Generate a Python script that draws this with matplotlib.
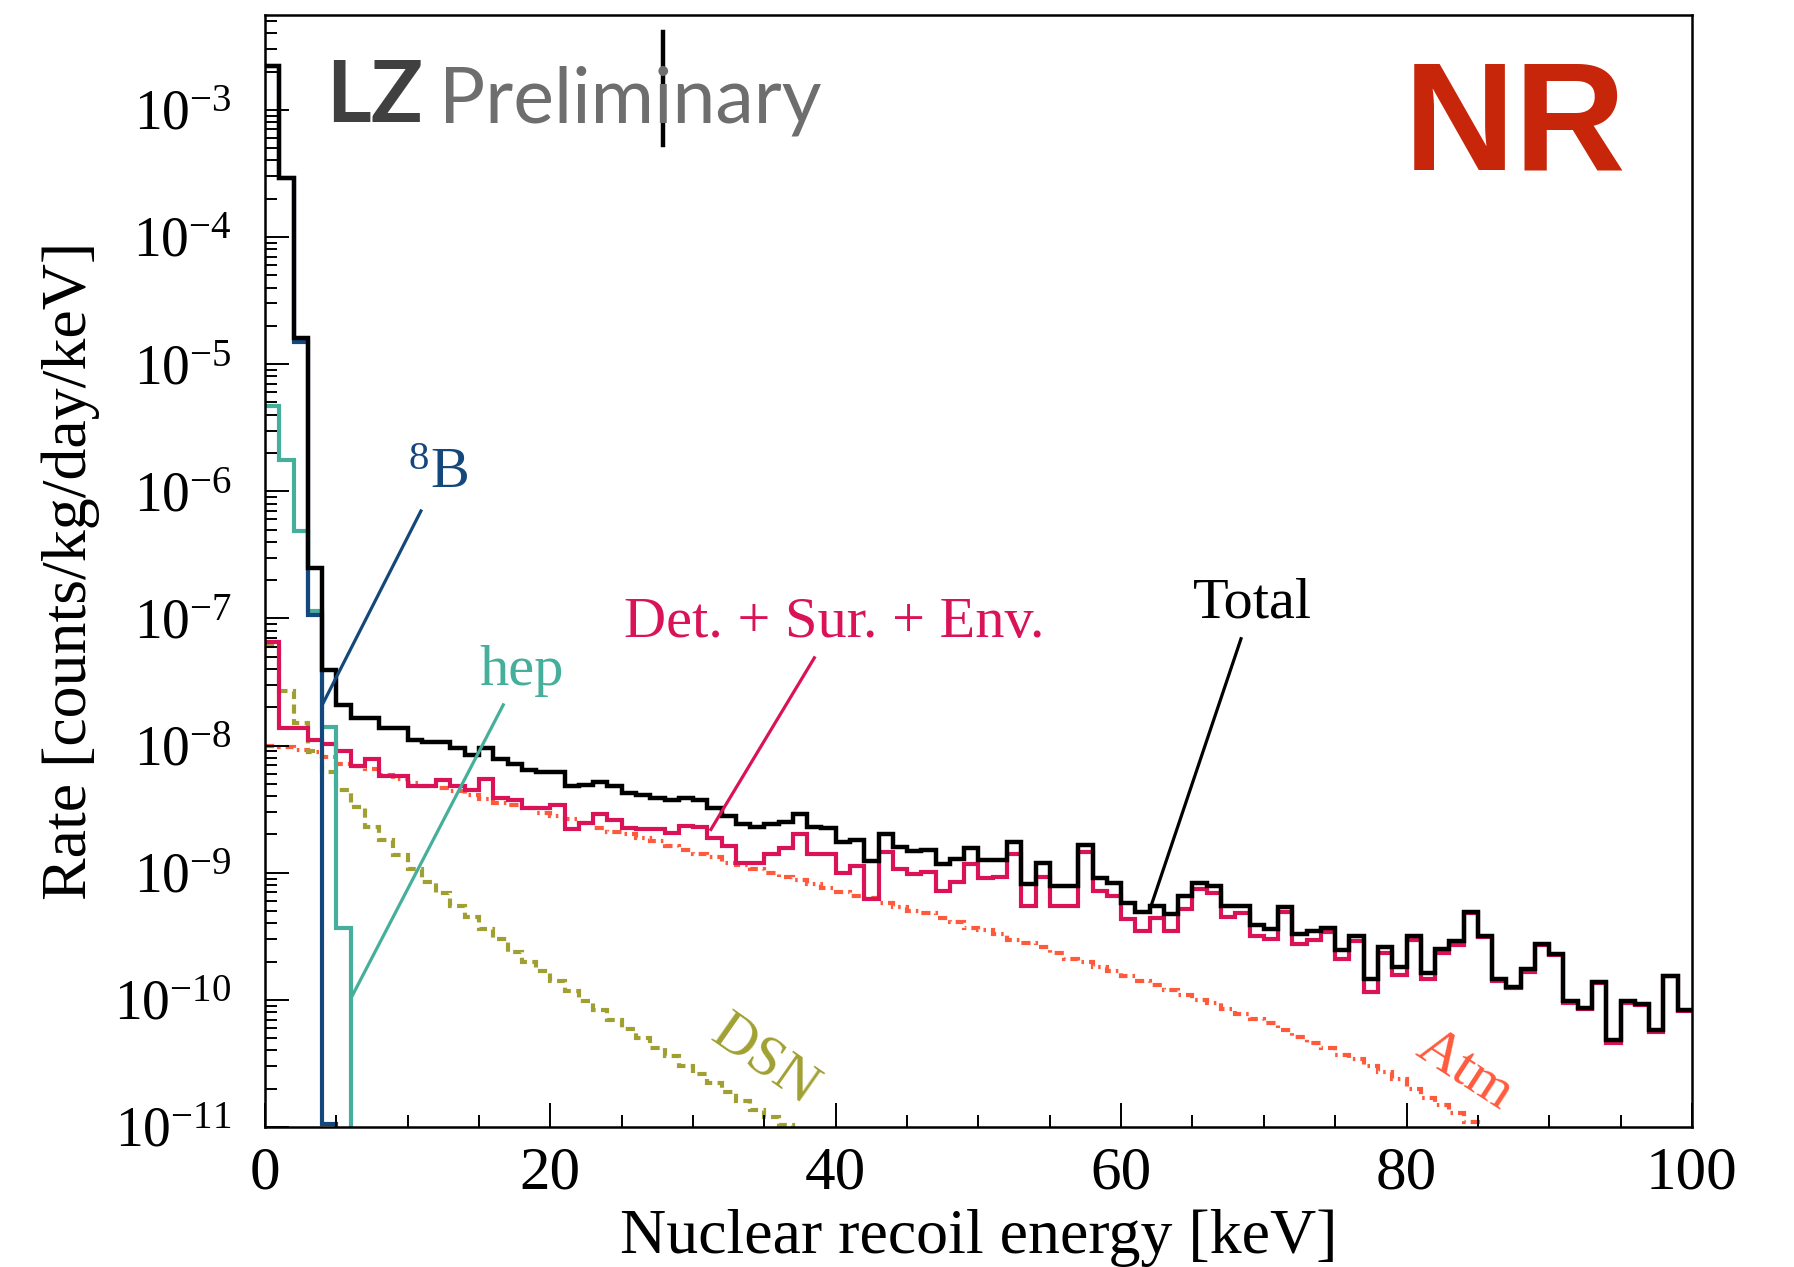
import numpy as np
import matplotlib
matplotlib.use("Agg")
import matplotlib.pyplot as plt
from matplotlib.ticker import LogLocator, MultipleLocator, NullFormatter

plt.rcParams["font.family"] = "Liberation Serif"
plt.rcParams["mathtext.fontset"] = "custom"
plt.rcParams["mathtext.rm"] = "Liberation Serif"
plt.rcParams["mathtext.it"] = "Liberation Serif:italic"

# NR rates in 1 keV bins starting at 0 keV [counts/kg/day/keV]
total = [2.2e-3, 2.9e-4, 1.6e-5, 2.5e-7, 3.9e-8, 2.1e-8, 1.65e-8, 1.65e-8, 1.38e-8, 1.38e-8,
         1.10e-8, 1.07e-8, 1.07e-8, 9.5e-9, 8.5e-9, 9.5e-9, 7.8e-9, 7.1e-9, 6.4e-9, 6.2e-9,
         6.2e-9, 4.8e-9, 4.9e-9, 5.2e-9, 4.8e-9, 4.2e-9, 4.1e-9, 3.9e-9, 3.7e-9, 3.9e-9,
         3.7e-9, 3.2e-9, 2.8e-9, 2.4e-9, 2.3e-9, 2.4e-9, 2.5e-9, 2.9e-9, 2.3e-9, 2.25e-9,
         1.74e-9, 1.82e-9, 1.23e-9, 2.0e-9, 1.58e-9, 1.48e-9, 1.51e-9, 1.17e-9, 1.29e-9, 1.55e-9,
         1.26e-9, 1.26e-9, 1.74e-9, 8.1e-10, 1.20e-9, 7.9e-10, 7.9e-10, 1.66e-9, 9.1e-10, 8.3e-10,
         5.8e-10, 4.9e-10, 5.5e-10, 4.7e-10, 6.5e-10, 8.3e-10, 7.9e-10, 5.5e-10, 5.5e-10, 3.9e-10,
         3.6e-10, 5.4e-10, 3.3e-10, 3.5e-10, 3.7e-10, 2.45e-10, 3.2e-10, 1.45e-10, 2.6e-10, 1.82e-10,
         3.2e-10, 1.62e-10, 2.5e-10, 2.9e-10, 4.9e-10, 3.2e-10, 1.45e-10, 1.26e-10, 1.74e-10, 2.75e-10,
         2.3e-10, 9.8e-11, 8.7e-11, 1.38e-10, 4.8e-11, 9.8e-11, 9.3e-11, 5.8e-11, 1.55e-10, 8.3e-11]

det_sur_env = [6.5e-8, 1.38e-8, 1.38e-8, 1.10e-8, 1.02e-8, 9.1e-9, 6.9e-9, 7.8e-9, 5.8e-9, 5.8e-9,
               4.8e-9, 4.8e-9, 5.4e-9, 4.8e-9, 4.5e-9, 5.5e-9, 3.9e-9, 3.7e-9, 3.2e-9, 3.2e-9,
               3.4e-9, 2.2e-9, 2.45e-9, 2.9e-9, 2.6e-9, 2.25e-9, 2.2e-9, 2.2e-9, 2.05e-9, 2.35e-9,
               2.3e-9, 1.86e-9, 1.62e-9, 1.20e-9, 1.20e-9, 1.41e-9, 1.55e-9, 2.0e-9, 1.41e-9, 1.41e-9,
               1.0e-9, 1.12e-9, 6.2e-10, 1.45e-9, 1.07e-9, 9.8e-10, 1.02e-9, 7.2e-10, 8.5e-10, 1.17e-9,
               9.1e-10, 9.3e-10, 1.41e-9, 5.5e-10, 9.3e-10, 5.5e-10, 5.5e-10, 1.45e-9, 7.2e-10, 6.6e-10,
               4.3e-10, 3.5e-10, 4.4e-10, 3.5e-10, 5.2e-10, 7.4e-10, 6.9e-10, 4.5e-10, 4.8e-10, 3.2e-10,
               3.0e-10, 4.9e-10, 2.75e-10, 2.95e-10, 3.4e-10, 2.1e-10, 2.9e-10, 1.15e-10, 2.35e-10, 1.58e-10,
               2.95e-10, 1.45e-10, 2.35e-10, 2.7e-10, 4.8e-10, 3.1e-10, 1.41e-10, 1.23e-10, 1.66e-10, 2.7e-10,
               2.25e-10, 9.5e-11, 8.5e-11, 1.36e-10, 4.6e-11, 9.5e-11, 9.1e-11, 5.6e-11, 1.53e-10, 8.1e-11]

atm = [1.0e-8, 9.8e-9, 9.3e-9, 8.9e-9, 8.1e-9, 7.2e-9, 6.9e-9, 6.5e-9, 5.9e-9, 5.5e-9,
       5.1e-9, 4.8e-9, 4.6e-9, 4.4e-9, 4.1e-9, 3.8e-9, 3.55e-9, 3.4e-9, 3.2e-9, 2.95e-9,
       2.8e-9, 2.65e-9, 2.45e-9, 2.25e-9, 2.1e-9, 2.0e-9, 1.86e-9, 1.78e-9, 1.62e-9, 1.51e-9,
       1.41e-9, 1.32e-9, 1.20e-9, 1.15e-9, 1.07e-9, 1.0e-9, 9.3e-10, 8.7e-10, 8.1e-10, 7.6e-10,
       7.1e-10, 6.6e-10, 6.3e-10, 5.75e-10, 5.4e-10, 5.0e-10, 4.8e-10, 4.4e-10, 4.1e-10, 3.7e-10,
       3.55e-10, 3.3e-10, 2.95e-10, 2.8e-10, 2.6e-10, 2.35e-10, 2.1e-10, 2.0e-10, 1.82e-10, 1.7e-10,
       1.55e-10, 1.41e-10, 1.32e-10, 1.20e-10, 1.10e-10, 1.0e-10, 9.5e-11, 8.5e-11, 7.8e-11, 7.1e-11,
       6.6e-11, 5.75e-11, 5.1e-11, 4.6e-11, 4.2e-11, 3.7e-11, 3.4e-11, 3.0e-11, 2.7e-11, 2.4e-11,
       2.0e-11, 1.7e-11, 1.5e-11, 1.3e-11, 1.1e-11, 8.5e-12]

dsn = [6.1e-8, 2.7e-8, 1.5e-8, 9.1e-9, 6.2e-9, 4.5e-9, 3.3e-9, 2.3e-9, 1.8e-9, 1.38e-9,
       1.07e-9, 8.5e-10, 6.9e-10, 5.5e-10, 4.5e-10, 3.6e-10, 3.0e-10, 2.4e-10, 2.0e-10, 1.7e-10,
       1.41e-10, 1.17e-10, 9.8e-11, 8.3e-11, 6.9e-11, 5.9e-11, 5.0e-11, 4.2e-11, 3.6e-11, 3.0e-11,
       2.6e-11, 2.2e-11, 1.87e-11, 1.6e-11, 1.37e-11, 1.19e-11, 1.03e-11, 8.8e-12]

b8 = [2.2e-3, 2.9e-4, 1.5e-5, 1.07e-7, 1.05e-11, 1e-12]
hep = [4.7e-6, 1.75e-6, 4.9e-7, 1.15e-7, 1.4e-8, 3.7e-10, 1e-12]

c_total = "black"
c_det = "#DA1258"
c_atm = "#FF5A3C"
c_dsn = "#A0A032"
c_b8 = "#14487D"
c_hep = "#46AF9B"

fig = plt.figure(figsize=(17.94, 12.67), dpi=100)
ax = fig.add_axes([0.1477, 0.1105, 0.7954, 0.8777])


def hist(vals, **kw):
    edges = np.arange(len(vals) + 1)
    ax.stairs(vals, edges, baseline=None, **kw)


hist(atm, color=c_atm, lw=3.0, ls=(0, (2.2, 1.2, 0.6, 1.2)))
hist(dsn, color=c_dsn, lw=3.0, ls=(0, (2.2, 1.3)))
hist(det_sur_env, color=c_det, lw=3.0)
hist(hep, color=c_hep, lw=3.0)
hist(b8, color=c_b8, lw=3.0)
hist(total, color=c_total, lw=3.2)

ax.set_yscale("log")
ax.set_xlim(0, 100)
ax.set_ylim(1e-11, 10 ** -2.254)

# labels with pointer lines
ax.plot([10.93, 4.06], [10 ** -6.155, 10 ** -7.67], color=c_b8, lw=2.3)
ax.text(12.1, 10 ** -5.976, r"$^{8}$B", color=c_b8, fontsize=42, ha="center", va="baseline")

ax.plot([16.7, 6.06], [10 ** -7.68, 10 ** -9.98], color=c_hep, lw=2.3)
ax.text(17.97, 10 ** -7.525, "hep", color=c_hep, fontsize=42, ha="center", va="baseline")

ax.plot([38.5, 31.25], [10 ** -7.31, 10 ** -8.66], color=c_det, lw=2.3)
ax.text(39.9, 10 ** -7.147, "Det. + Sur. + Env.", color=c_det, fontsize=42, ha="center", va="baseline")

ax.plot([68.4, 62.1], [10 ** -7.16, 10 ** -9.26], color=c_total, lw=2.3)
ax.text(69.2, 10 ** -6.99, "Total", color=c_total, fontsize=42, ha="center", va="baseline")

ax.text(35.0, 10 ** -10.48, "DSN", color=c_dsn, fontsize=42, ha="center", va="center",
        rotation=-35, rotation_mode="anchor")
ax.text(84.1, 10 ** -10.55, "Atm", color=c_atm, fontsize=42, ha="center", va="center",
        rotation=-33, rotation_mode="anchor")

# axes styling
ax.yaxis.set_major_locator(LogLocator(base=10, numticks=20))
ax.yaxis.set_minor_locator(LogLocator(base=10, subs=np.arange(2, 10), numticks=100))
ax.yaxis.set_minor_formatter(NullFormatter())
ax.xaxis.set_major_locator(MultipleLocator(20))
ax.xaxis.set_minor_locator(MultipleLocator(5))
ax.tick_params(which="both", direction="in", top=False, right=False, width=1.4)
ax.tick_params(which="major", length=17)
ax.tick_params(which="minor", length=8.5)
ax.tick_params(axis="x", labelsize=44, pad=14)
ax.tick_params(axis="y", labelsize=40, pad=24)
for s in ax.spines.values():
    s.set_linewidth(1.8)

ax.set_xlabel("Nuclear recoil energy [keV]", fontsize=46, va="center")
ax.xaxis.set_label_coords(0.5, -0.0998)
ax.set_ylabel("Rate [counts/kg/day/keV]", fontsize=46, va="center")
ax.yaxis.set_label_coords(-0.136, 0.5)

# header tags
fig.text(0.1817, 0.9037, "LZ", fontsize=62, fontfamily="Lato", fontweight="bold",
         color="#404040", ha="left", va="baseline")
fig.text(0.2449, 0.9037, "Preliminary", fontsize=55.5, fontfamily="Lato",
         color="#6E6E6E", ha="left", va="baseline")
fig.add_artist(plt.Line2D([0.3696, 0.3696], [0.8856, 0.9747], color="black", lw=3.2))
fig.text(0.8445, 0.8974, "NR", fontsize=111, fontfamily="Liberation Sans", fontweight="bold",
         color="#C8260A", ha="center", va="center")

fig.savefig("out.png", dpi=100)
